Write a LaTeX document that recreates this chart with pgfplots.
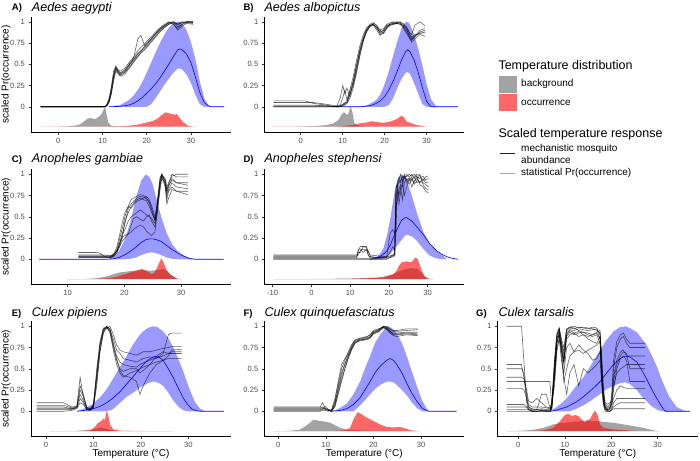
\documentclass[border=0pt]{standalone}
\usepackage{fontspec}
\setmainfont{Liberation Sans}
\usepackage{pgfplots}
\pgfplotsset{compat=1.18}
\usepackage{pgfplotstable}
\usepgfplotslibrary{fillbetween}
\definecolor{bggray}{RGB}{102,102,102}
\definecolor{meanblue}{RGB}{0,0,255}
\definecolor{ticktext}{RGB}{77,77,77}
\definecolor{tickcol}{RGB}{51,51,51}

\pgfplotsset{
 panel/.style={
  scale only axis, width=200pt, height=115.5pt,
  ymin=-0.297, ymax=1.062,
  axis x line*=bottom, axis y line*=left,
  axis line style={line width=0.6pt, black},
  ytick={0,0.25,0.5,0.75,1}, yticklabels={0,0.25,0.5,0.75,1},
  tick align=outside, major tick length=2.5pt,
  tick style={line width=0.5pt, tickcol},
  tick label style={font=\fontsize{7.6}{8}\selectfont, text=ticktext},
  anchor=south west,
 },
 stat/.style={black, draw opacity=0.6, line width=0.6pt},
 mean/.style={color=meanblue, line width=0.6pt},
 bgd/.style={draw=none, fill=bggray, fill opacity=0.6},
 occ/.style={draw=none, fill=red, fill opacity=0.6},
 ribbon/.style={draw=none, fill=blue, fill opacity=0.4},
}

% ---------------- Panel A ----------------
\pgfplotstableread{
x a b c d e f
-4 0 0 0 0 0 0
10.5 0 0 0 0 0 0
11 0.02 0.01 0.03 0.02 0.01 0.02
11.5 0.08 0.06 0.1 0.09 0.05 0.07
12 0.2 0.16 0.24 0.22 0.15 0.18
12.5 0.38 0.33 0.42 0.36 0.3 0.35
13 0.47 0.44 0.48 0.45 0.42 0.46
13.5 0.42 0.4 0.44 0.41 0.39 0.43
14 0.39 0.37 0.42 0.38 0.36 0.4
15 0.42 0.4 0.45 0.41 0.38 0.43
16 0.49 0.46 0.52 0.48 0.45 0.5
17 0.55 0.53 0.58 0.56 0.52 0.57
18 0.62 0.6 0.66 0.63 0.59 0.8
18.7 0.66 0.64 0.7 0.66 0.63 0.84
19.5 0.7 0.68 0.74 0.71 0.67 0.72
20 0.73 0.71 0.77 0.74 0.7 0.75
21 0.79 0.77 0.82 0.8 0.76 0.8
22 0.85 0.83 0.88 0.86 0.82 0.86
23 0.91 0.89 0.93 0.92 0.88 0.91
24 0.95 0.94 0.97 0.96 0.93 0.95
25 0.99 0.97 1.0 0.98 0.97 0.99
26 1.0 0.99 0.98 1.0 0.99 0.97
27 0.97 0.94 0.9 0.96 0.98 0.92
28 0.99 0.97 0.95 0.99 1.0 0.97
29 1.0 0.99 0.98 1.0 0.99 1.0
30.5 1.0 0.99 0.97 1.0 0.98 0.99
}\As
\pgfplotstableread{
x lo mid hi
11.5 0 0 0
14 0 0.005 0.02
16 0 0.02 0.08
17 0 0.04 0.13
18 0 0.07 0.2
19 0 0.11 0.29
20 0 0.16 0.4
21 0.03 0.21 0.52
22 0.1 0.27 0.64
23 0.18 0.34 0.75
24 0.26 0.42 0.85
25 0.33 0.5 0.93
26 0.4 0.59 0.98
27 0.45 0.67 1.0
27.5 0.45 0.68 1.0
28 0.44 0.67 0.98
29 0.38 0.62 0.9
30 0.28 0.52 0.76
31 0.14 0.35 0.56
32 0.03 0.17 0.3
33 0 0.05 0.1
34 0 0.01 0.01
34.5 0 0 0
37.5 0 0 0
}\Ab
\pgfplotstableread{
x bg oc
-4 0 0
0 0.002 0
2 0.005 0
4 0.015 0
5 0.03 0
6 0.07 0
6.5 0.09 0
7 0.1 0
7.5 0.1 0
8.3 0.09 0
9 0.11 0
9.8 0.15 0
10.3 0.21 0
10.6 0.23 0
10.9 0.15 0
11.3 0.05 0.002
12 0.01 0.004
14 0 0.006
16 0 0.012
18 0 0.025
20 0 0.05
21.5 0 0.07
22.6 0 0.1
23.7 0 0.15
24.3 0 0.17
24.9 0 0.16
25.6 0 0.15
26.4 0 0.14
26.8 0 0.15
27.5 0 0.1
28.3 0 0.05
29.4 0 0.01
30.5 0 0
31 0 0
}\Ad

% ---------------- Panel B ----------------
\pgfplotstableread{
x a b c d e f
-6.5 0 0.07 0.05 0.02 0 0.01
1 0 0.07 0.05 0.02 0 0.01
3 0 0.04 0.05 0.02 0 0.01
6 0 0.02 0.03 0.01 0 0.01
8.5 0 0 0.01 0 0 0
9.4 0.01 0.1 0.02 0 0.01 0.01
10 0.02 0.25 0.1 0.01 0.03 0.02
10.5 0.03 0.15 0.2 0.02 0.05 0.04
11 0.05 0.22 0.08 0.04 0.06 0.05
11.7 0.15 0.12 0.2 0.1 0.18 0.14
12.5 0.27 0.3 0.35 0.22 0.3 0.25
13.3 0.45 0.5 0.55 0.4 0.48 0.42
14.1 0.65 0.68 0.72 0.6 0.66 0.62
14.9 0.8 0.82 0.85 0.77 0.79 0.78
15.7 0.9 0.92 0.93 0.88 0.89 0.9
16.5 0.95 0.97 0.96 0.94 0.95 0.96
17.3 0.97 0.99 0.96 0.96 0.98 0.97
18.1 0.93 0.95 0.9 0.94 0.96 0.92
18.9 0.87 0.85 0.84 0.9 0.9 0.88
19.7 0.9 0.88 0.87 0.92 0.86 0.9
20.5 0.95 0.93 0.94 0.97 0.92 0.96
21.3 0.97 0.98 0.96 0.99 0.96 0.97
22 0.98 1.0 0.97 0.99 0.97 0.98
22.9 0.99 0.99 0.98 1.0 0.98 0.98
23.7 0.98 1.0 0.97 0.99 0.99 0.97
24.4 0.95 0.97 0.96 0.93 0.98 0.94
25.2 0.9 0.92 0.93 0.86 0.94 0.88
26 0.84 0.8 0.87 0.8 0.85 0.82
26.4 0.8 0.76 0.85 0.78 0.82 0.79
27.2 0.84 0.8 0.96 0.82 0.85 0.83
28.4 0.87 0.85 1.0 0.88 0.86 0.9
29.6 0.87 0.83 0.95 0.9 0.88 0.92
}\Bs
\pgfplotstableread{
x lo mid hi
8.5 0 0 0
14 0 0 0
16 0 0.01 0.02
17 0 0.02 0.05
18 0 0.04 0.08
19 0 0.07 0.15
20 0 0.12 0.27
21 0.02 0.2 0.42
22 0.1 0.3 0.6
23 0.22 0.42 0.77
24 0.33 0.55 0.92
25 0.4 0.65 1.0
25.5 0.41 0.67 1.0
26 0.39 0.65 0.97
27 0.28 0.55 0.85
28 0.15 0.4 0.68
29 0.03 0.22 0.48
30 0 0.06 0.26
31 0 0 0.09
32 0 0 0.02
32.5 0 0 0
37.5 0 0 0
}\Bb
\pgfplotstableread{
x bg oc
-7 0 0
0 0.003 0
4 0.01 0
6.2 0.02 0
7.8 0.04 0
9 0.08 0.003
9.8 0.15 0.005
10.3 0.17 0.008
11 0.14 0.012
11.3 0.15 0.015
11.9 0.24 0.018
12.4 0.15 0.02
12.7 0.05 0.022
13.3 0.02 0.03
14.1 0.01 0.04
14.9 0.005 0.045
15.7 0.002 0.05
16.9 0 0.065
18.1 0 0.055
19.7 0 0.045
21.3 0 0.06
22.9 0 0.09
24 0 0.13
24.6 0 0.11
25.2 0 0.06
26.4 0 0.04
27.6 0 0.02
29.2 0 0.005
30 0 0
}\Bd

% ---------------- Panel C ----------------
\pgfplotstableread{
x a b c d e f g
11.9 0.03 0.02 0.04 0.08 0.03 0.02 0.05
15 0.03 0.02 0.04 0.08 0.03 0.02 0.05
15.7 0.03 0.02 0.04 0.07 0.03 0.02 0.05
16.5 0.03 0.02 0.04 0.03 0.03 0.02 0.05
17.5 0.03 0.02 0.04 0.02 0.03 0.02 0.04
18.1 0.05 0.04 0.06 0.03 0.05 0.04 0.06
18.7 0.1 0.12 0.1 0.08 0.15 0.08 0.1
19.2 0.2 0.25 0.18 0.2 0.3 0.15 0.16
19.7 0.32 0.38 0.3 0.26 0.45 0.28 0.22
20.1 0.42 0.5 0.35 0.28 0.55 0.45 0.25
20.7 0.6 0.63 0.45 0.3 0.62 0.55 0.3
21.2 0.65 0.7 0.5 0.32 0.6 0.62 0.4
21.6 0.68 0.72 0.52 0.35 0.64 0.66 0.48
22.2 0.72 0.74 0.55 0.38 0.68 0.7 0.5
22.8 0.74 0.76 0.58 0.4 0.7 0.72 0.47
23.4 0.73 0.75 0.55 0.38 0.72 0.7 0.45
23.9 0.71 0.72 0.52 0.33 0.74 0.69 0.5
24.4 0.68 0.66 0.5 0.3 0.7 0.62 0.52
24.8 0.6 0.58 0.48 0.28 0.63 0.55 0.45
25.4 0.47 0.45 0.42 0.32 0.5 0.46 0.38
25.7 0.6 0.55 0.55 0.5 0.62 0.58 0.5
26.3 0.95 0.9 0.88 0.85 0.96 0.92 0.82
26.6 1.0 1.0 0.97 0.98 1.0 0.99 0.95
27.2 0.92 0.9 0.85 0.88 0.95 0.93 0.9
27.5 0.82 0.78 0.7 0.65 0.85 0.8 0.75
27.8 0.88 0.85 0.8 0.72 0.9 0.87 0.82
28.4 1.0 0.95 0.85 0.82 0.98 0.93 0.9
29.2 0.97 0.9 0.8 0.8 1.0 0.9 0.85
31.2 0.97 0.87 0.76 0.8 1.0 0.9 0.83
}\Cs
\pgfplotstableread{
x lo mid hi
5 0 0 0
17 0 0 0
18 0 0.005 0.03
19 0 0.02 0.09
20 0 0.05 0.22
21 0.005 0.09 0.42
22 0.02 0.14 0.72
23 0.05 0.2 0.93
23.8 0.07 0.23 1.0
24.5 0.08 0.24 0.96
25 0.08 0.24 0.88
25.7 0.07 0.23 0.7
26.5 0.05 0.21 0.5
27.5 0.02 0.16 0.3
28.5 0.005 0.11 0.17
29.5 0 0.07 0.09
30.5 0 0.035 0.045
31.5 0 0.01 0.015
32.5 0 0 0
37.5 0 0 0
}\Cb
\pgfplotstableread{
x bg oc
9.8 0 0
13 0.003 0
15 0.01 0.005
17 0.035 0.01
18.1 0.06 0.02
19.2 0.08 0.04
20.4 0.09 0.065
21.6 0.1 0.09
22.2 0.105 0.1
23.1 0.11 0.12
23.9 0.1 0.1
24.8 0.1 0.06
25.4 0.105 0.08
26 0.11 0.17
26.5 0.115 0.245
26.9 0.12 0.2
27.5 0.1 0.1
28.1 0.06 0.05
28.4 0.045 0.04
29.2 0.01 0.01
29.5 0.005 0.005
30.1 0 0
}\Cd

% ---------------- Panel D ----------------
\pgfplotstableread{
x a b c d e f
-9.8 0 0.02 0.04 0.05 0.01 0.03
11.7 0 0.02 0.04 0.05 0.01 0.03
12.1 0 0.1 0.05 0.08 0.01 0.12
12.6 0 0.15 0.1 0.08 0.01 0.12
13.4 0 0.15 0.12 0.15 0.01 0.08
14.2 0 0.14 0.1 0.15 0.01 0.12
14.7 0 0.05 0.1 0.08 0.01 0.04
15.2 0 0.02 0.03 0.05 0.01 0.03
17 0 0.02 0.02 0.04 0.01 0.02
19.4 0 0.02 0.02 0.03 0.01 0.03
20.3 0.02 0.03 0.3 0.04 0.02 0.08
21 0.04 0.05 0.35 0.05 0.03 0.15
21.5 0.05 0.06 0.3 0.07 0.04 0.1
21.8 0.85 0.3 0.5 0.8 0.7 0.6
22.2 0.88 0.8 0.9 0.92 0.85 0.7
22.6 0.9 0.75 0.65 0.96 0.95 0.82
23 0.93 0.85 0.78 0.9 1.0 0.88
23.5 0.96 0.7 0.92 0.98 0.92 0.85
24 0.98 0.9 0.75 0.95 0.97 1.0
24.6 0.97 0.95 0.85 1.0 0.93 0.9
25.2 1.0 0.88 0.95 0.97 0.96 0.93
25.9 0.98 0.95 0.92 1.0 0.85 0.97
26.5 1.0 0.9 0.98 0.95 0.92 0.88
27.2 0.97 0.98 0.9 1.0 0.95 0.92
28 0.95 0.88 0.92 0.98 0.9 1.0
28.8 0.98 0.85 0.9 0.92 0.95 0.88
29.5 0.93 0.8 0.88 0.97 0.9 0.83
30.2 0.95 0.78 0.85 0.98 0.9 0.82
}\Ds
\pgfplotstableread{
x lo mid hi
15 0 0 0
16 0 0.005 0.005
17 0 0.02 0.03
18 0 0.04 0.08
18.6 0.01 0.06 0.13
19.5 0.03 0.1 0.28
20.3 0.06 0.16 0.46
21 0.1 0.24 0.66
21.6 0.13 0.3 0.82
22.5 0.18 0.39 0.96
23.3 0.23 0.46 1.0
24.2 0.28 0.49 0.97
24.6 0.29 0.49 0.93
25.9 0.27 0.45 0.75
27.2 0.22 0.38 0.55
28.9 0.12 0.29 0.32
30.6 0.04 0.18 0.18
32.3 0.01 0.1 0.1
34 0 0.05 0.04
35 0 0.03 0
36 0 0.015 0
37.8 0 0 0
}\Db
\pgfplotstableread{
x bg oc
-9.8 0 0
0 0.003 0
5 0.005 0.002
10 0.008 0.005
13.4 0.012 0.01
16.9 0.02 0.015
18.6 0.03 0.02
19.4 0.04 0.03
21.2 0.06 0.06
22 0.08 0.1
22.5 0.09 0.15
23.3 0.105 0.2
24.6 0.12 0.21
25.5 0.13 0.2
25.9 0.13 0.2
26.8 0.125 0.255
27.4 0.12 0.24
28.5 0.07 0.1
29.3 0.03 0.03
29.8 0.02 0.01
30.6 0.005 0
31.5 0 0
}\Dd

% ---------------- Panel E ----------------
\pgfplotstableread{
x a b c d e f
-2 0.02 0.1 0.05 0.03 0 0.07
3.7 0.02 0.1 0.05 0.03 0 0.07
5.4 0.02 0.05 0.03 0.03 0.01 0.04
6.5 0.05 0.06 0.04 0.04 0.03 0.05
7.2 0.2 0.4 0.15 0.25 0.1 0.3
7.9 0.12 0.15 0.1 0.18 0.08 0.2
8.6 0.03 0.05 0.02 0.04 0.02 0.04
9.3 0.02 0.03 0.01 0.02 0.01 0.02
10 0.06 0.08 0.05 0.07 0.04 0.06
10.7 0.4 0.45 0.35 0.5 0.3 0.42
11.4 0.78 0.8 0.72 0.82 0.7 0.76
12.1 0.95 0.97 0.93 0.98 0.92 0.96
12.8 1.0 0.98 1.0 0.99 0.98 0.99
13.5 0.97 0.95 0.96 0.92 1.0 0.94
14.2 0.8 0.75 0.85 0.72 0.9 0.78
14.9 0.65 0.6 0.72 0.55 0.78 0.62
15.6 0.58 0.48 0.68 0.45 0.72 0.5
16.3 0.55 0.42 0.62 0.4 0.7 0.47
17.7 0.53 0.4 0.6 0.45 0.68 0.5
19.1 0.52 0.35 0.58 0.48 0.66 0.5
19.8 0.55 0.2 0.6 0.5 0.68 0.45
20.5 0.57 0.3 0.62 0.52 0.7 0.48
21.9 0.6 0.45 0.64 0.55 0.7 0.55
23.3 0.63 0.55 0.62 0.58 0.72 0.65
24.7 0.65 0.6 0.68 0.6 0.74 0.7
25.8 0.68 0.65 0.9 0.62 0.75 0.68
26.5 0.7 0.72 0.92 0.62 0.76 0.68
28.6 0.7 0.73 0.92 0.62 0.76 0.68
}\Es
\pgfplotstableread{
x lo mid hi
6.5 0 0 0
8 0 0.01 0.03
10 0 0.03 0.09
11.5 0 0.06 0.17
12.8 0 0.1 0.26
14 0.02 0.15 0.37
15.6 0.1 0.23 0.52
17 0.17 0.32 0.65
18.4 0.22 0.41 0.79
19.8 0.28 0.5 0.9
20.5 0.3 0.55 0.94
21.5 0.33 0.6 0.98
22.6 0.35 0.64 1.0
23.5 0.34 0.65 0.99
24.7 0.3 0.6 0.94
25.8 0.22 0.5 0.86
26.8 0.13 0.4 0.76
28 0.05 0.26 0.6
29 0.01 0.15 0.46
30 0 0.07 0.3
30.7 0 0.03 0.2
31.5 0 0.01 0.1
32.5 0 0 0.03
33.5 0 0 0
37.5 0 0 0
}\Eb
\pgfplotstableread{
x bg oc
0.8 0 0
5 0.003 0
6.5 0.005 0.002
8 0.01 0.005
9.3 0.015 0.01
10.3 0.025 0.05
10.7 0.03 0.08
11 0.035 0.1
11.4 0.04 0.11
11.7 0.04 0.12
12.1 0.035 0.15
12.4 0.03 0.13
12.8 0.03 0.24
13.1 0.025 0.2
13.5 0.015 0.08
14.2 0.008 0.02
15.6 0.004 0.006
20 0.002 0.003
26.8 0 0
}\Ed

% ---------------- Panel F ----------------
\pgfplotstableread{
x a b c d e f
-1 0.02 0.05 0.01 0.03 0 0.04
8.8 0.02 0.05 0.01 0.03 0 0.04
9.3 0.03 0.1 0.02 0.04 0.01 0.05
9.8 0.02 0.04 0.06 0.03 0.01 0.03
10.5 0.01 0.02 0.02 0.02 0 0.01
11.2 0 0.01 0 0.01 0.02 0
11.9 0.08 0.05 0.12 0.1 0.15 0.06
12.6 0.28 0.2 0.32 0.25 0.35 0.22
13.3 0.45 0.35 0.5 0.42 0.55 0.38
14 0.56 0.5 0.6 0.55 0.62 0.5
14.7 0.66 0.62 0.7 0.65 0.68 0.63
15.4 0.75 0.72 0.78 0.74 0.77 0.73
16.1 0.82 0.8 0.84 0.8 0.83 0.81
17.2 0.85 0.84 0.86 0.83 0.86 0.84
18.6 0.86 0.85 0.87 0.84 0.88 0.85
19.3 0.88 0.87 0.9 0.86 0.9 0.87
20 0.93 0.92 0.94 0.91 0.95 0.92
21 0.95 0.95 0.96 0.93 0.97 0.94
22.1 1.0 0.99 1.0 0.98 0.99 0.99
22.8 0.98 0.97 0.99 0.96 1.0 0.97
23.5 0.94 0.93 0.96 0.92 0.97 0.94
24.2 0.92 0.9 0.94 0.89 0.95 0.91
24.9 0.92 0.9 0.94 0.88 0.95 0.91
27 0.93 0.91 0.95 0.9 0.97 0.92
29.3 0.93 0.9 0.96 0.89 0.97 0.91
}\Fs
\pgfplotstableread{
x lo mid hi
10.9 0 0 0
12 0 0.005 0.01
13 0 0.01 0.04
14.4 0 0.03 0.09
15.8 0 0.08 0.2
17.2 0.07 0.16 0.35
18.2 0.13 0.25 0.5
19.3 0.2 0.35 0.65
20.3 0.26 0.45 0.8
21.4 0.31 0.53 0.9
22.8 0.35 0.6 1.0
23.5 0.35 0.62 0.99
24.2 0.34 0.6 0.96
24.9 0.31 0.55 0.92
26 0.25 0.45 0.8
27 0.19 0.33 0.65
28 0.11 0.22 0.48
29.1 0.04 0.12 0.3
30.2 0 0.04 0.13
31.2 0 0.005 0.03
31.9 0 0 0
37.5 0 0 0
}\Fb
\pgfplotstableread{
x bg oc
-1 0 0
2.5 0.005 0
4.6 0.02 0
6 0.07 0
7.4 0.135 0
8.8 0.12 0
10.2 0.11 0
10.9 0.1 0.002
11.6 0.08 0.004
13 0.04 0.008
13.7 0.03 0.01
14.4 0.02 0.02
15.1 0.015 0.04
15.9 0.012 0.15
16.7 0.01 0.225
17.2 0.008 0.21
18.6 0.006 0.16
20 0.005 0.12
21.4 0.004 0.08
22.8 0.003 0.05
24.2 0.002 0.045
25.6 0.001 0.05
26.6 0 0.035
28 0 0.01
29.8 0 0
}\Fd

% ---------------- Panel G ----------------
\pgfplotstableread{
x a b c d e f g h i j
-2.5 1 0.55 0.5 0.4 0.35 0.27 0.08 0.05 0.02 0
0.7 1 0.55 0.5 0.4 0.35 0.27 0.08 0.05 0.02 0
1.2 0.6 0.4 0.45 0.38 0.35 0.25 0.08 0.05 0.02 0
1.8 0.1 0.15 0.2 0.25 0.35 0.15 0.05 0.05 0.02 0
2.2 0.02 0.05 0.08 0.12 0.35 0.05 0.02 0.03 0.02 0
3 0 0.03 0.05 0.1 0.35 0.02 0 0.01 0 0
4 0 0.02 0.05 0.15 0.35 0.02 0 0.02 0 0
5 0.01 0.03 0.05 0.1 0.35 0.2 0.01 0.02 0 0
6 0 0.02 0.04 0.05 0.35 0.2 0.01 0.01 0 0
6.8 0 0.02 0.03 0.04 0.35 0.05 0 0.01 0 0
7.2 0.1 0.05 0.08 0.1 0.08 0.03 0.05 0.05 0.03 0.02
7.8 0.6 0.5 0.45 0.4 0.3 0.55 0.6 0.5 0.45 0.4
8.3 0.9 0.85 0.8 0.75 0.7 0.88 0.92 0.85 0.82 0.8
8.8 0.97 0.95 0.9 0.85 0.85 0.98 0.98 0.95 0.9 0.92
9.3 0.8 0.7 0.75 0.6 0.75 0.85 0.82 0.78 0.72 0.65
9.8 0.7 0.6 0.55 0.45 0.4 0.75 0.65 0.6 0.58 0.35
10.4 0.95 0.92 0.85 0.75 0.2 0.97 0.96 0.9 0.88 0.5
11.1 0.98 0.96 0.9 0.8 0.45 0.99 0.99 0.95 0.93 0.65
12 0.97 0.95 0.92 0.7 0.55 0.98 1 0.92 0.9 0.7
13 0.99 0.97 0.88 0.78 0.3 0.95 0.98 0.94 0.92 0.72
14 0.98 0.96 0.9 0.72 0.5 0.93 0.99 0.9 0.93 0.68
15 0.97 0.95 0.85 0.68 0.45 0.92 0.98 0.88 0.9 0.72
16 0.99 0.96 0.82 0.6 0.5 0.9 0.97 0.9 0.88 0.75
16.9 0.98 0.97 0.8 0.62 0.55 0.93 0.95 0.92 0.9 0.78
17.6 0.9 0.85 0.88 0.7 0.6 0.95 0.92 0.85 0.8 0.82
17.9 0.6 0.5 0.7 0.5 0.35 0.65 0.55 0.45 0.4 0.5
18.3 0.2 0.15 0.3 0.2 0.1 0.25 0.15 0.1 0.08 0.12
18.7 0.05 0.03 0.08 0.1 0.05 0.05 0.02 0.02 0 0.03
19.2 0.02 0.01 0.05 0.08 0.05 0.03 0 0.02 0 0
19.7 0.03 0.02 0.08 0.1 0.05 0.05 0 0.03 0 0
20.1 0.1 0.2 0.15 0.12 0.08 0.08 0.02 0.05 0.03 0.01
20.5 0.5 0.6 0.4 0.3 0.15 0.35 0.1 0.25 0.05 0.03
21.2 0.75 0.82 0.6 0.45 0.25 0.55 0.15 0.5 0.08 0.03
22 0.85 0.9 0.7 0.5 0.3 0.65 0.15 0.62 0.1 0.03
22.6 0.88 0.92 0.72 0.52 0.28 0.7 0.15 0.65 0.1 0.03
23.3 0.8 0.85 0.65 0.55 0.27 0.68 0.15 0.6 0.1 0.03
24 0.75 0.8 0.65 0.55 0.27 0.5 0.15 0.35 0.1 0.03
27.3 0.75 0.8 0.65 0.55 0.27 0.5 0.15 0.35 0.1 0.03
}\Gs
\pgfplotstableread{
x lo mid hi
6.8 0 0 0
8 0 0.01 0.04
9.2 0 0.03 0.09
10.4 0 0.05 0.15
11.1 0 0.07 0.2
12.5 0.03 0.11 0.3
14 0.07 0.17 0.4
15.5 0.12 0.24 0.53
16.5 0.16 0.29 0.62
17.6 0.2 0.35 0.72
19 0.26 0.45 0.84
20.5 0.3 0.55 0.94
21.9 0.33 0.62 0.99
23 0.34 0.65 1.0
24 0.32 0.64 0.98
25.5 0.25 0.58 0.93
26.5 0.18 0.49 0.86
27.6 0.12 0.38 0.78
28.7 0.06 0.26 0.66
29.8 0.02 0.15 0.53
30.8 0 0.06 0.38
31.6 0 0 0.28
32.5 0 0 0.17
34.1 0 0 0.05
35.5 0 0 0.01
36.5 0 0 0
37 0 0 0
}\Gb
\pgfplotstableread{
x bg oc
-2.5 0 0
1.8 0.01 0
3.5 0.02 0.003
5.4 0.04 0.01
7.5 0.08 0.04
9 0.095 0.12
10 0.1 0.19
10.8 0.105 0.205
11.5 0.11 0.18
12.2 0.112 0.19
12.9 0.115 0.18
13.6 0.118 0.14
14.4 0.12 0.1
14.7 0.12 0.13
15.4 0.12 0.14
16 0.12 0.2
16.5 0.12 0.245
17 0.118 0.2
17.6 0.115 0.08
18.3 0.11 0.04
20.5 0.1 0.02
22.6 0.08 0.015
23.3 0.075 0.01
24.8 0.06 0.005
26.9 0.04 0
29.1 0.01 0
30.5 0 0
}\Gd

% draw one panel's layers
\newcommand{\layers}[3]{% #1 dens, #2 blue, #3 prefix
  \addplot[bgd] table[x=x, y expr=\thisrow{bg}-0.235]{#1} -- cycle;
  \addplot[occ] table[x=x, y expr=\thisrow{oc}-0.235]{#1} -- cycle;
  \addplot[name path=#3hi, draw=none] table[x=x,y=hi]{#2};
  \addplot[name path=#3lo, draw=none] table[x=x,y=lo]{#2};
  \addplot[ribbon] fill between[of=#3hi and #3lo];
  \addplot[mean] table[x=x,y=mid]{#2};
}

\begin{document}
\begin{tikzpicture}
\path (0pt,0pt) rectangle (700pt,-460pt);

% A
\begin{axis}[panel, at={(31pt,-132pt)}, xmin=-6.17, xmax=39.05, xtick={0,10,20,30}, xticklabels={0,10,20,30}]
\layers{\Ad}{\Ab}{A}
\pgfplotsinvokeforeach{a,b,c,d,e,f}{\addplot[stat] table[x=x,y=#1]{\As};}
\end{axis}
% B
\begin{axis}[panel, at={(264.3pt,-132pt)}, xmin=-8.67, xmax=38.95, xtick={0,10,20,30}, xticklabels={0,10,20,30}]
\layers{\Bd}{\Bb}{B}
\pgfplotsinvokeforeach{a,b,c,d,e,f}{\addplot[stat] table[x=x,y=#1]{\Bs};}
\end{axis}
% C
\begin{axis}[panel, at={(31pt,-284.5pt)}, xmin=3.52, xmax=38.82, xtick={10,20,30}, xticklabels={10,20,30}]
\layers{\Cd}{\Cb}{C}
\pgfplotsinvokeforeach{a,b,c,d,e,f,g}{\addplot[stat] table[x=x,y=#1]{\Cs};}
\end{axis}
% D
\begin{axis}[panel, at={(264.3pt,-284.5pt)}, xmin=-12.15, xmax=39.46, xtick={-10,0,10,20,30}, xticklabels={-10,0,10,20,30}]
\layers{\Dd}{\Db}{D}
\pgfplotsinvokeforeach{a,b,c,d,e,f}{\addplot[stat] table[x=x,y=#1]{\Ds};}
\end{axis}
% E
\begin{axis}[panel, at={(31pt,-436.5pt)}, xmin=-3.16, xmax=39.01, xtick={0,10,20,30}, xticklabels={0,10,20,30}]
\layers{\Ed}{\Eb}{E}
\pgfplotsinvokeforeach{a,b,c,d,e,f}{\addplot[stat] table[x=x,y=#1]{\Es};}
\end{axis}
% F
\begin{axis}[panel, at={(264.3pt,-436.5pt)}, xmin=-2.94, xmax=39.1, xtick={0,10,20,30}, xticklabels={0,10,20,30}]
\layers{\Fd}{\Fb}{F}
\pgfplotsinvokeforeach{a,b,c,d,e,f}{\addplot[stat] table[x=x,y=#1]{\Fs};}
\end{axis}
% G
\begin{axis}[panel, at={(497.7pt,-436.5pt)}, xmin=-4.43, xmax=38.61, xtick={0,10,20,30}, xticklabels={0,10,20,30}]
\layers{\Gd}{\Gb}{G}
\pgfplotsinvokeforeach{a,b,c,d,e,f,g,h,i,j}{\addplot[stat] table[x=x,y=#1]{\Gs};}
\end{axis}

% titles
\tikzset{tag/.style={anchor=base west, inner sep=0pt, font=\bfseries\fontsize{9.5}{10}\selectfont},
         ttl/.style={anchor=base west, inner sep=0pt, font=\itshape\fontsize{12.6}{13}\selectfont},
         ylab/.style={rotate=90, inner sep=0pt, font=\fontsize{10}{11}\selectfont},
         xlab/.style={anchor=base, inner sep=0pt, font=\fontsize{10}{11}\selectfont}}
\node[tag] at (11.7pt,-11pt) {A)};   \node[ttl] at (31.7pt,-11.3pt) {Aedes aegypti};
\node[tag] at (243.3pt,-11pt) {B)};  \node[ttl] at (264.3pt,-11.3pt) {Aedes albopictus};
\node[tag] at (11.7pt,-162.3pt) {C)};  \node[ttl] at (31.7pt,-162.5pt) {Anopheles gambiae};
\node[tag] at (243.3pt,-162.3pt) {D)}; \node[ttl] at (264.3pt,-162.5pt) {Anopheles stephensi};
\node[tag] at (11.7pt,-316.5pt) {E)};  \node[ttl] at (31.7pt,-316.7pt) {Culex pipiens};
\node[tag] at (243.3pt,-316.5pt) {F)}; \node[ttl] at (264.3pt,-316.7pt) {Culex quinquefasciatus};
\node[tag] at (476pt,-316.5pt) {G)};   \node[ttl] at (498.3pt,-316.7pt) {Culex tarsalis};

\node[ylab] at (6pt,-74.3pt) {scaled Pr(occurrence)};
\node[ylab] at (6pt,-226.8pt) {scaled Pr(occurrence)};
\node[ylab] at (6pt,-378.8pt) {scaled Pr(occurrence)};

\node[xlab] at (131pt,-456.7pt) {Temperature (°C)};
\node[xlab] at (364.3pt,-456.7pt) {Temperature (°C)};
\node[xlab] at (597.7pt,-456.7pt) {Temperature (°C)};

% legend
\node[anchor=base west, inner sep=0pt, font=\fontsize{12.5}{13}\selectfont] at (498.3pt,-69pt) {Temperature distribution};
\fill[bggray, fill opacity=0.6] (498.5pt,-75.7pt) rectangle (516.5pt,-92.5pt);
\fill[red, fill opacity=0.6] (498.5pt,-94pt) rectangle (516.5pt,-110.8pt);
\node[anchor=west, inner sep=0pt, font=\fontsize{10}{11}\selectfont] at (521pt,-84pt) {background};
\node[anchor=west, inner sep=0pt, font=\fontsize{10}{11}\selectfont] at (521pt,-102.5pt) {occurrence};
\node[anchor=base west, inner sep=0pt, font=\fontsize{12.5}{13}\selectfont] at (498.3pt,-137.3pt) {Scaled temperature response};
\draw[meanblue, line width=0.7pt] (500pt,-153.5pt) -- (515pt,-153.5pt);
\node[anchor=west, inner sep=0pt, font=\fontsize{10}{11}\selectfont] at (521pt,-149pt) {mechanistic mosquito};
\node[anchor=west, inner sep=0pt, font=\fontsize{10}{11}\selectfont] at (521pt,-159.5pt) {abundance};
\draw[black, opacity=0.35, line width=0.7pt] (500pt,-173.3pt) -- (515pt,-173.3pt);
\node[anchor=west, inner sep=0pt, font=\fontsize{10}{11}\selectfont] at (521pt,-173.3pt) {statistical Pr(occurrence)};

\pgfresetboundingbox
\path[use as bounding box] (0pt,0pt) rectangle (700pt,-460pt);
\end{tikzpicture}
\end{document}
